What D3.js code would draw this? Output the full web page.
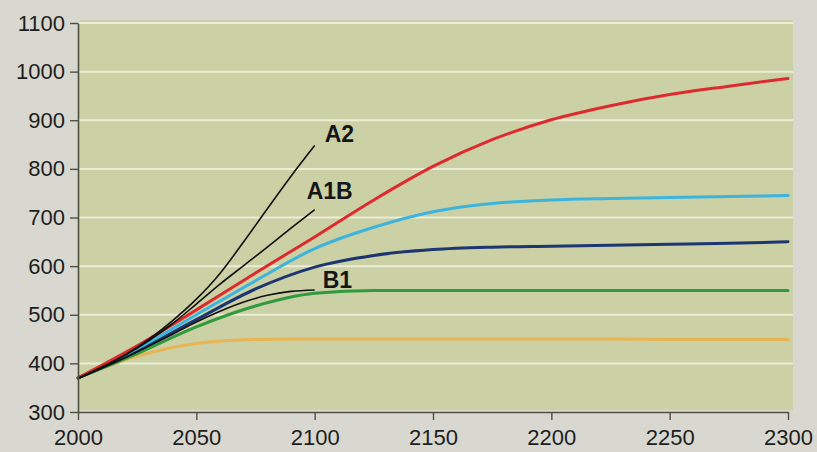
<!DOCTYPE html>
<html>
<head>
<meta charset="utf-8">
<script src="https://cdn.jsdelivr.net/npm/d3@7"></script>
<style>
  html, body { margin: 0; padding: 0; background: #d8d8d0; }
  svg { display: block; }
</style>
</head>
<body>
<svg id="chart" width="817" height="452"></svg>
<script>
// stabilisation profiles (ppm)
const years = [2000, 2025, 2050, 2075, 2100, 2125, 2150, 2175, 2200, 2225, 2250, 2275, 2300];
const ppm1000 = [370, 436, 510, 586, 660, 736, 805, 860, 901, 930, 953, 970, 986];
const ppm750  = [370, 430, 500, 570, 636, 680, 712, 729, 736, 739, 741, 743, 745];
const ppm650  = [370, 425, 490, 553, 598, 622, 634, 639, 641, 643, 645, 647, 650];
const ppm550  = [370, 420, 475, 518, 544, 550, 550, 550, 550, 550, 550, 550, 550];
const ppm450  = [370, 415, 441, 449, 450, 450, 450, 450, 450, 450, 449, 449, 449];

// SRES scenario paths to 2100
const sresYears = [2000, 2010, 2020, 2030, 2040, 2050, 2060, 2070, 2080, 2090, 2100];
const sresA2  = [369, 392, 418, 450, 488, 532, 585, 650, 718, 785, 848];
const sresA1B = [369, 392, 417, 447, 482, 522, 563, 601, 639, 678, 716];
const sresB1  = [369, 390, 412, 436, 460, 485, 507, 526, 540, 548, 551];
const sresNames = ['A2', 'A1B', 'B1'];

const yTicks = [300, 400, 500, 600, 700, 800, 900, 1000, 1100];
const xTicks = [2000, 2050, 2100, 2150, 2200, 2250, 2300];

const svg = d3.select('#chart');
const margin = { top: 23, left: 78 };
const innerWidth = 710;
const innerHeight = 389;

const g = svg.append('g')
  .attr('transform', `translate(${margin.left}, ${margin.top})`);

const xScale = d3.scaleLinear().domain([2000, 2300]).range([0, innerWidth]);
const yScale = d3.scaleLinear().domain([300, 1100]).range([innerHeight, 0]);

// plot background
g.append('rect')
  .attr('x', 1).attr('y', -3)
  .attr('width', innerWidth + 4).attr('height', innerHeight + 1)
  .attr('fill', '#cbd1a5');

// grid
g.selectAll('.grid').data(yTicks.slice(1)).enter().append('line')
  .attr('class', 'grid')
  .attr('x1', 1).attr('x2', innerWidth + 5)
  .attr('y1', d => yScale(d)).attr('y2', d => yScale(d))
  .attr('stroke', '#ecedd6')
  .attr('stroke-width', 2);

const line = d3.line()
  .x(d => xScale(d[0]))
  .y(d => yScale(d[1]))
  .curve(d3.curveMonotoneX);

const profiles = [
  { vals: ppm450, color: '#e9b452', w: 3 },
  { vals: ppm550, color: '#2f9a3e', w: 3 },
  { vals: ppm650, color: '#1d3570', w: 3 },
  { vals: ppm750, color: '#3cb4de', w: 3 },
  { vals: ppm1000, color: '#dd2a2e', w: 3 }
];

g.selectAll('.profile').data(profiles).enter().append('path')
  .attr('class', 'profile')
  .attr('d', p => line(years.map((y, i) => [y, p.vals[i]])))
  .attr('fill', 'none')
  .attr('stroke', p => p.color)
  .attr('stroke-width', p => p.w)
  .attr('stroke-linecap', 'round');

const sres = [sresA2, sresA1B, sresB1];
g.selectAll('.sres').data(sres).enter().append('path')
  .attr('class', 'sres')
  .attr('d', s => line(sresYears.map((y, i) => [y, s[i]])))
  .attr('fill', 'none')
  .attr('stroke', '#111')
  .attr('stroke-width', 1.6);

// scenario labels next to line ends
const labelPos = [
  { dx: 10, dy: -4 },
  { dx: -8, dy: -11 },
  { dx: 8, dy: -2 }
];
g.selectAll('.sres-label').data(sresNames).enter().append('text')
  .attr('class', 'sres-label')
  .attr('x', (d, i) => xScale(2100) + labelPos[i].dx)
  .attr('y', (d, i) => yScale(sres[i][sres[i].length - 1]) + labelPos[i].dy)
  .attr('font-family', 'Liberation Sans, Arial, sans-serif')
  .attr('font-size', 23)
  .attr('font-weight', 'bold')
  .attr('fill', '#151515')
  .text(d => d);

const axisStyle = AxisG => {
  AxisG.select('.domain').attr('stroke', '#4d5240').attr('stroke-width', 1.6);
  AxisG.selectAll('.tick line').attr('stroke', '#4d5240').attr('stroke-width', 1.4);
  AxisG.selectAll('text')
    .attr('font-family', 'Liberation Sans, Arial, sans-serif')
    .attr('font-size', 22)
    .attr('fill', '#1e1e1e');
};

const yAxis = d3.axisLeft(yScale).tickValues(yTicks).tickFormat(d3.format('d'))
  .tickSize(8).tickSizeOuter(0).tickPadding(5);
g.append('g').attr('class', 'y-axis').call(yAxis).call(axisStyle);

const xAxis = d3.axisBottom(xScale).tickValues(xTicks).tickFormat(d3.format('d'))
  .tickSize(8).tickSizeOuter(0).tickPadding(9);
g.append('g').attr('class', 'x-axis')
  .attr('transform', `translate(0, ${innerHeight})`)
  .call(xAxis).call(axisStyle);
</script>
</body>
</html>
